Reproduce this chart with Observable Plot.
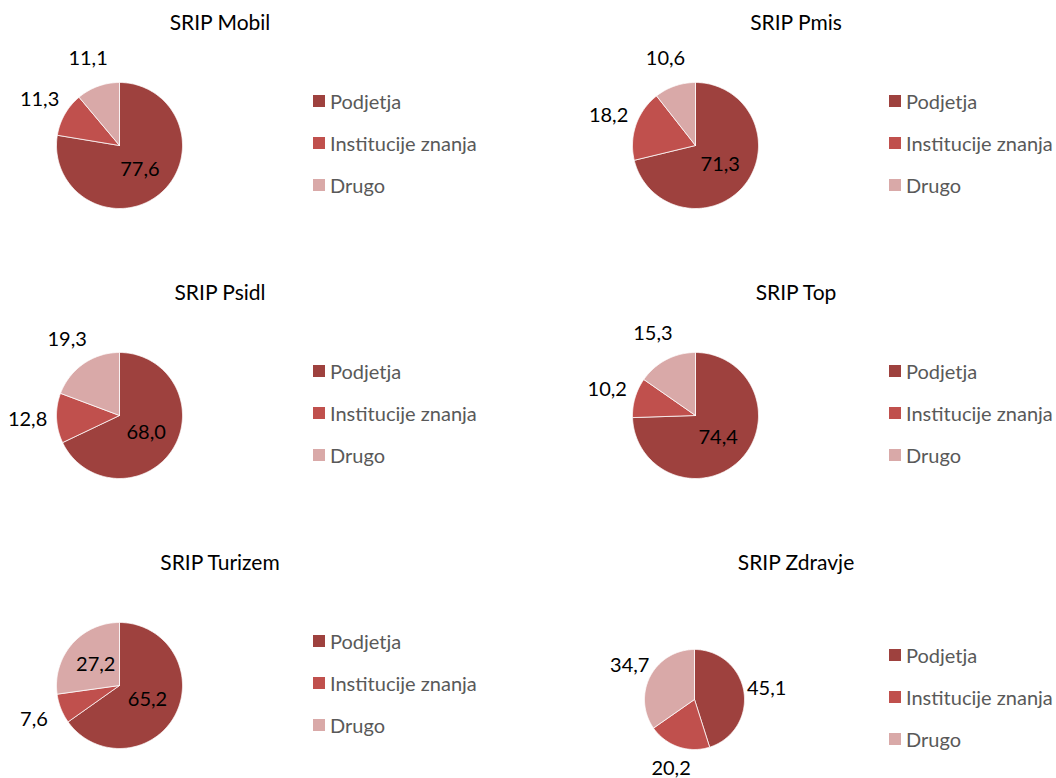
<!DOCTYPE html>
<html>
<head>
<meta charset="utf-8">
<script src="https://cdn.jsdelivr.net/npm/d3@7"></script>
<script src="https://cdn.jsdelivr.net/npm/@observablehq/plot@0.6"></script>
<style>
  html, body { margin: 0; padding: 0; background: #fff; }
  #root { position: relative; width: 1056px; height: 778px; overflow: hidden; font-family: Lato, "Noto Sans", sans-serif; }
  .panel { position: absolute; width: 480px; height: 238px; }
  .title { position: absolute; left: 100px; width: 240px; top: 9px; text-align: center; font-size: 21px; font-weight: 400; line-height: 26px; color: #000; }
  .pie { position: absolute; left: 0; top: 0; }
  .legend { position: absolute; left: 313px; }
  .legend .row { display: flex; align-items: center; height: 24px; margin-bottom: 18px; font-size: 20px; color: #595959; white-space: nowrap; }
  .legend .sw { width: 12px; height: 12px; margin-right: 5px; flex: none; }
</style>
</head>
<body>
<div id="root"></div>
<script>
// ---- data ----
const panels = ["SRIP Mobil", "SRIP Pmis", "SRIP Psidl", "SRIP Top", "SRIP Turizem", "SRIP Zdravje"];
const categories = ["Podjetja", "Institucije znanja", "Drugo"];
const podjetja = [77.6, 71.3, 68.0, 74.4, 65.2, 45.1];
const institucije = [11.3, 18.2, 12.8, 10.2, 7.6, 20.2];
const drugo = [11.1, 10.6, 19.3, 15.3, 27.2, 34.7];
const colors = ["#9E413E", "#C0504D", "#D9A9A8"];

// ---- layout ----
const colX = [0, 576], rowY = [0, 270, 540];
const unitPx = 63;           // pixels for a full-size pie radius
const pieW = 240, pieH = 238;
const fmt = v => d3.format(".1f")(v).replace(".", ",");

const root = document.getElementById("root");

panels.forEach((name, i) => {
  const col = i % 2, row = Math.floor(i / 2);
  const small = name === "SRIP Zdravje";
  const r = small ? 50 / unitPx : 1;          // radius in scale units
  const cx = small ? 118 : 119;               // pie centre within panel (px)
  const cy = small ? 159 : 145;
  const values = [podjetja[i], institucije[i], drugo[i]];
  const arcs = d3.pie().sort(null).value(d => d)(values);

  // slice outlines (polar -> cartesian, computed from pie angles)
  const pts = [];
  arcs.forEach((a, k) => {
    const cat = categories[k];
    pts.push({cat, x: 0, y: 0});
    const n = Math.max(2, Math.ceil((a.endAngle - a.startAngle) / (Math.PI / 180)));
    for (let j = 0; j <= n; j++) {
      const t = a.startAngle + (a.endAngle - a.startAngle) * j / n;
      pts.push({cat, x: r * Math.sin(t), y: r * Math.cos(t)});
    }
    pts.push({cat, x: 0, y: 0});
  });

  // labels
  const labels = arcs.map((a, k) => {
    const m = (a.startAngle + a.endAngle) / 2;
    const inside = !small && values[k] >= 25;
    const d = inside ? r * 0.5 : r + (small ? 23 : 29) / unitPx;
    return {text: fmt(values[k]), x: d * Math.sin(m), y: d * Math.cos(m)};
  });

  const panel = document.createElement("div");
  panel.className = "panel";
  panel.style.left = colX[col] + "px";
  panel.style.top = rowY[row] + "px";

  const title = document.createElement("div");
  title.className = "title";
  title.textContent = name;
  panel.appendChild(title);

  const plot = Plot.plot({
    width: pieW,
    height: pieH,
    margin: 0,
    style: {background: "transparent", overflow: "visible", fontFamily: "Lato, 'Noto Sans', sans-serif"},
    x: {domain: [-cx / unitPx, (pieW - cx) / unitPx], axis: null},
    y: {domain: [-(pieH - cy) / unitPx, cy / unitPx], axis: null},
    color: {domain: categories, range: colors},
    marks: [
      Plot.line(pts, {x: "x", y: "y", z: "cat", fill: "cat", stroke: "white", strokeWidth: 0.75, curve: "linear"}),
      Plot.text(labels, {x: "x", y: "y", text: "text", fill: "#000", fontSize: 20})
    ]
  });
  plot.classList.add("pie");
  panel.appendChild(plot);

  const legend = document.createElement("div");
  legend.className = "legend";
  legend.style.top = (cy - 42 - 14) + "px";
  categories.forEach((c, k) => {
    const rowEl = document.createElement("div");
    rowEl.className = "row";
    const sw = document.createElement("span");
    sw.className = "sw";
    sw.style.background = colors[k];
    const tx = document.createElement("span");
    tx.textContent = c;
    rowEl.appendChild(sw);
    rowEl.appendChild(tx);
    legend.appendChild(rowEl);
  });
  panel.appendChild(legend);

  root.appendChild(panel);
});
</script>
</body>
</html>
